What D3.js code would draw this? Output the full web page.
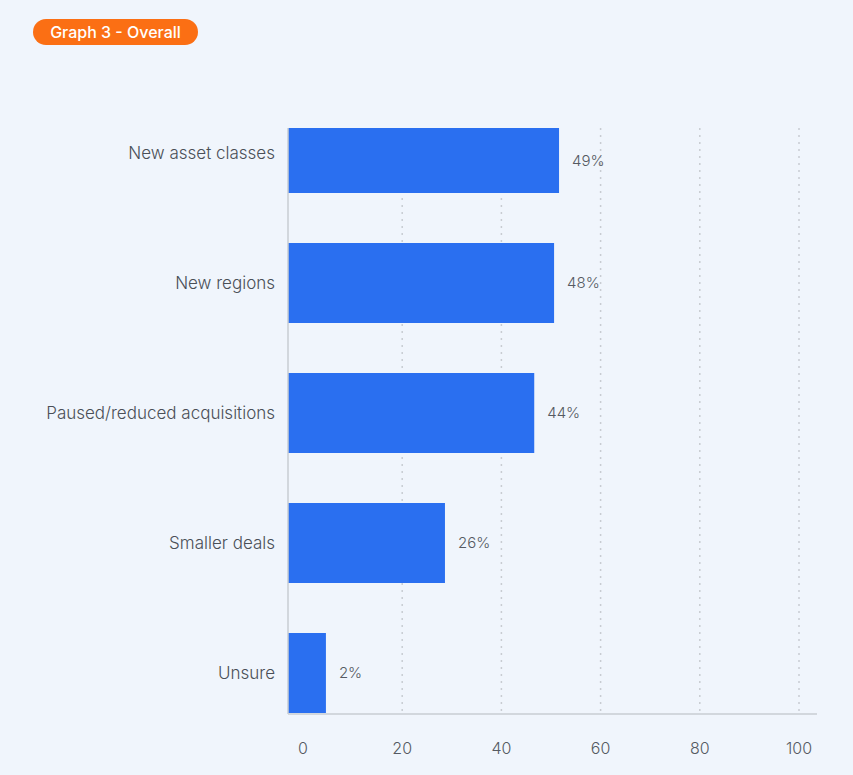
<!DOCTYPE html>
<html><head><meta charset="utf-8">
<script src="https://cdn.jsdelivr.net/npm/d3@7"></script>
<style>body{margin:0;background:#f0f5fc;}svg{display:block;font-family:Inter,Lato,sans-serif;}</style>
</head><body><svg id="c" width="853" height="775"></svg>
<script>
const categories = ["New asset classes","New regions","Paused/reduced acquisitions","Smaller deals","Unsure"];
const values = [49,48,44,26,2];
const valueLabels = ["49%","48%","44%","26%","2%"];
const ticks = [0,20,40,60,80,100];
const title = "Graph 3 - Overall";

const svg = d3.select("#c");
svg.append("rect").attr("width",853).attr("height",775).attr("fill","#f0f5fc");
const x = d3.scaleLinear().domain([0,100]).range([303,799]);
const barOffset = 13;
const y = d3.scaleBand().domain(categories).range([88,738]).paddingInner(0.3846).paddingOuter(0.1923);
const axisX = 288, plotTop = 128, plotBottom = 714;

svg.append("rect").attr("x",33).attr("y",19).attr("width",165).attr("height",26).attr("rx",13).attr("fill","#fb6f14");
svg.append("text").attr("x",115.5).attr("y",37.5).attr("text-anchor","middle").attr("fill","#fff").attr("font-size",16).attr("font-weight",500).text(title);

svg.selectAll(".g").data(ticks.filter(t=>t>0)).join("line")
  .attr("x1",d=>x(d)).attr("x2",d=>x(d)).attr("y1",plotTop).attr("y2",plotBottom)
  .attr("stroke","#c8ccd2").attr("stroke-dasharray","2,5").attr("stroke-width",1.5);

svg.append("defs").append("clipPath").attr("id","pc").append("rect").attr("x",0).attr("y",plotTop).attr("width",853).attr("height",plotBottom-plotTop);
svg.append("g").attr("clip-path","url(#pc)").selectAll("rect").data(values).join("rect")
  .attr("x",axisX).attr("y",(d,i)=>y(categories[i])).attr("width",d=>x(d)+barOffset-axisX)
  .attr("height",y.bandwidth()).attr("fill","#2a6ff0");

svg.append("line").attr("x1",axisX).attr("x2",axisX).attr("y1",plotTop).attr("y2",plotBottom).attr("stroke","#c9cdd3").attr("stroke-width",1.5);
svg.append("line").attr("x1",axisX).attr("x2",817).attr("y1",plotBottom).attr("y2",plotBottom).attr("stroke","#c9cdd3").attr("stroke-width",1.5);

svg.selectAll(".cl").data(categories).join("text")
  .attr("x",275).attr("y",d=>y(d)+y.bandwidth()/2+6).attr("text-anchor","end")
  .attr("fill","#4a4f57").attr("font-size",17).attr("font-weight",300).text(d=>d);

svg.selectAll(".vl").data(values).join("text")
  .attr("x",d=>x(d)+barOffset+13)
  .attr("y",(d,i)=>{const y0=Math.max(plotTop,y(categories[i]));const y1=y(categories[i])+y.bandwidth();return (y0+y1)/2+5;})
  .attr("fill","#555a62").attr("font-size",15).attr("font-weight",300).text((d,i)=>valueLabels[i]);

svg.selectAll(".tl").data(ticks).join("text")
  .attr("x",d=>x(d)).attr("y",754).attr("text-anchor","middle")
  .attr("fill","#555a62").attr("font-size",16).attr("font-weight",300).text(d=>d);
</script></body></html>
